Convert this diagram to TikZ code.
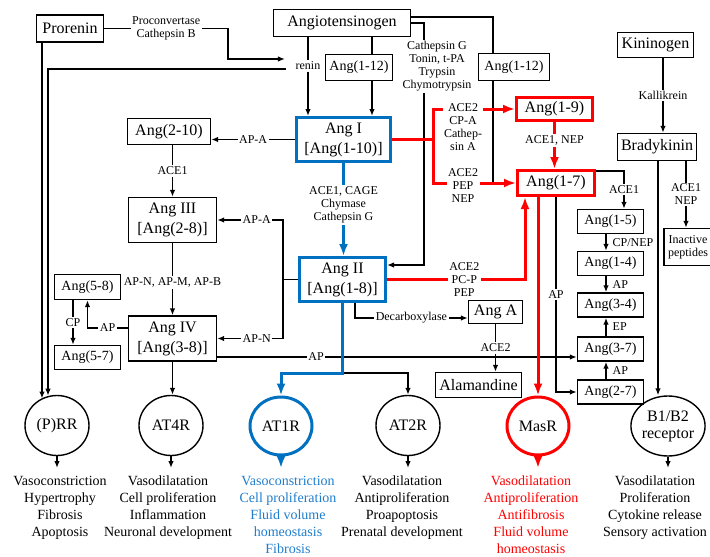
\documentclass[tikz,border=0pt]{standalone}
\usepackage{fontspec}
\setmainfont{Liberation Serif}
\usetikzlibrary{arrows.meta,shapes.geometric}
\definecolor{rasblue}{RGB}{0,112,192}
\definecolor{effblue}{RGB}{30,125,205}
\definecolor{rasred}{RGB}{255,0,0}

\begin{document}
\begin{tikzpicture}[x=1pt,y=-1pt,
    box/.style={draw, line width=1.4pt, fill=white, inner sep=0pt, align=center,
      font=\fontsize{16}{20}\selectfont, minimum height=27pt},
    sbox/.style={box, font=\fontsize{14}{16}\selectfont, minimum height=24pt, minimum width=66pt},
    bigbox/.style={box, minimum height=45pt, minimum width=88pt},
    bluebox/.style={bigbox, draw=rasblue, line width=3pt},
    redbox/.style={box, draw=rasred, line width=3pt},
    rec/.style={ellipse, draw, line width=1.4pt, inner sep=0pt, minimum width=64pt,
      minimum height=60pt, align=center, font=\fontsize{16}{17}\selectfont},
    eff/.style={anchor=north, inner xsep=0pt, inner ysep=8pt, align=center,
      font=\fontsize{14}{17}\selectfont},
    lab/.style={fill=white, inner sep=1.5pt, align=center, font=\fontsize{12}{13}\selectfont},
    side/.style={anchor=west, xshift=5pt, inner sep=1pt, font=\fontsize{12}{13}\selectfont},
    wire/.style={line width=1.4pt},
    conn/.style={line width=1.4pt, -{Latex[length=7pt,width=5.5pt]}},
    redwire/.style={draw=rasred, line width=3pt},
    redconn/.style={draw=rasred, line width=3pt, -{Latex[length=12pt,width=9pt]}},
    blueconn/.style={draw=rasblue, line width=3pt, -{Latex[length=12pt,width=9pt]}}]
    \useasboundingbox (0,0) rectangle (710,557);

    % Precursors
    \node[box, minimum width=67pt] (pro) at (70,28.5) {Prorenin};
    \node[box, minimum width=137pt] (agt) at (342,23) {Angiotensinogen};
    \node[sbox, minimum width=67pt, minimum height=26pt] (a112L) at (359,67.5) {Ang(1-12)};
    \node[sbox, minimum width=71pt, minimum height=27pt] (a112R) at (514,67) {Ang(1-12)};
    \node[box, minimum width=76pt, minimum height=25pt] (kin) at (655.5,45) {Kininogen};
    \node[font=\fontsize{12}{13}\selectfont, inner sep=1.5pt] (renin) at (308,66) {renin};

    % Angiotensin peptides
    \node[bluebox, minimum width=94pt, minimum height=44pt] (angI) at (343.5,139.5) {Ang I\\{[Ang(1-10)]}};
    \node[box, minimum width=83pt, minimum height=26pt] (a210) at (169,131.5) {Ang(2-10)};
    \node[redbox, minimum width=76pt, minimum height=23pt] (a19) at (554.5,109) {Ang(1-9)};
    \node[redbox, minimum width=77pt, minimum height=25pt] (a17) at (556,183) {Ang(1-7)};
    \node[box, minimum width=79pt, minimum height=27pt] (brady) at (657,147) {Bradykinin};
    \node[bigbox] (ang3) at (172.5,220) {Ang III\\{[Ang(2-8)]}};
    \node[sbox] (a15) at (610.5,221.5) {Ang(1-5)};
    \node[box, font=\fontsize{12}{13}\selectfont, minimum width=48pt, minimum height=37pt] (inact) at (688,247) {Inactive\\peptides};
    \node[sbox] (a14) at (610.5,263.5) {Ang(1-4)};
    \node[bluebox, minimum width=86pt, minimum height=44pt] (angII) at (342.5,279.5) {Ang II\\{[Ang(1-8)]}};
    \node[sbox, minimum height=25pt] (a58) at (87.5,287) {Ang(5-8)};
    \node[sbox] (a34) at (610.5,305) {Ang(3-4)};
    \node[box, minimum width=54pt, minimum height=23pt] (angA) at (495.5,312) {Ang A};
    \node[bigbox] (ang4) at (172.5,338.5) {Ang IV\\{[Ang(3-8)]}};
    \node[sbox] (a37) at (610.5,349) {Ang(3-7)};
    \node[sbox] (a57) at (87.5,357.5) {Ang(5-7)};
    \node[box, minimum width=86pt, minimum height=25pt] (alam) at (478.5,385) {Alamandine};
    \node[sbox] (a27) at (610.5,392) {Ang(2-7)};

    % Receptors
    \node[rec] (prr) at (57,425.5) {(P)RR};
    \node[rec] (at4r) at (171,425.5) {AT4R};
    \node[rec, draw=rasblue, line width=3pt, minimum width=62pt, minimum height=58pt] (at1r) at (281,426) {AT1R};
    \node[rec] (at2r) at (408,425.5) {AT2R};
    \node[rec, draw=rasred, line width=3pt, minimum width=62pt, minimum height=58pt] (masr) at (538,426) {MasR};
    \node[rec] (b12) at (668,426) {B1/B2\\receptor};

    % Effects
    \node[eff] (prrE) at (60,468) {Vasoconstriction\\Hypertrophy\\Fibrosis\\Apoptosis};
    \node[eff] (at4rE) at (168,468) {Vasodilatation\\Cell proliferation\\Inflammation\\Neuronal development};
    \node[eff, text=effblue] (at1rE) at (288,468) {Vasoconstriction\\Cell proliferation\\Fluid volume\\homeostasis\\Fibrosis};
    \node[eff] (at2rE) at (402,468) {Vasodilatation\\Antiproliferation\\Proapoptosis\\Prenatal development};
    \node[eff, text=rasred] (masrE) at (531,468) {Vasodilatation\\Antiproliferation\\Antifibrosis\\Fluid volume\\homeostasis};
    \node[eff] (b12E) at (655,468) {Vasodilatation\\Proliferation\\Cytokine release\\Sensory activation};

    % Renin and (P)RR
    \coordinate (pcturn) at (228,59);
    \coordinate (prrA) at ([xshift=-15pt]prr.north);
    \coordinate (prrB) at ([xshift=-9pt]prr.north);
    \draw[conn] (pro.east) -- node[lab]{Proconvertase\\Cathepsin B} (pro.east -| pcturn)
        -- (pcturn) -- ([xshift=-9pt,yshift=7pt]renin.west);
    \draw[conn] ([xshift=-8pt,yshift=-3pt]renin.west) -| (prrB |- prr.105);
    \draw[conn] (pro.south -| prrA) -- (prrA |- prr.120);
    \draw[wire] (renin.north |- agt.south) -- (renin.north);
    \draw[conn] (renin.south) -- (renin.south |- angI.north);

    % Ang(1-12)
    \coordinate (x112) at (372,0);
    \draw[wire] (x112 |- agt.south) -- (x112 |- a112L.north);
    \draw[conn] (x112 |- a112L.south) -- (x112 |- angI.north);
    \coordinate (x112R) at (493,0);
    \draw[wire] ([yshift=6pt]agt.east) -| (x112R |- a112R.north);
    \draw[wire] (x112R |- a112R.south) -- (x112R |- a17.west);

    % Cathepsin G route
    \coordinate (cgturn) at (424,265);
    \draw[conn] (agt.east) -| (cgturn) -- (cgturn -| angII.east);
    \node[lab] (cglab) at (437,66.5) {Cathepsin G\\Tonin, t-PA\\Trypsin\\Chymotrypsin};

    % Kinins
    \coordinate (xkal) at (663,0);
    \coordinate (xnep) at (686,0);
    \coordinate (xb12) at (658,0);
    \draw[conn] (xkal |- kin.south) -- node[lab]{Kallikrein} (xkal |- brady.north);
    \draw[conn] (xnep |- brady.south) -- node[lab]{ACE1\\NEP} (xnep |- inact.north);
    \draw[conn] (xb12 |- brady.south) -- (xb12 |- b12.95);

    % Left branch
    \coordinate (xap) at (283,0);
    \coordinate (xcp) at (73,0);
    \draw[conn] (angI.west) -- node[lab]{AP-A} (angI.west -| a210.east);
    \draw[conn] (a210.south -| ang3.north) -- node[lab]{ACE1} (ang3.north);
    \draw[wire] (angII.west) -- (xap |- angII.west);
    \draw[conn] (xap |- angII.west) |- node[lab,pos=0.7]{AP-A} (ang3.east);
    \draw[conn] (xap |- angII.west) |- node[lab,pos=0.7]{AP-N} (ang4.east);
    \draw[conn] (ang3) -- node[lab,pos=0.55]{AP-N, AP-M, AP-B} (ang4);
    \draw[conn] ([yshift=10.5pt]ang4.west) -| node[lab,pos=0.25]{AP} (a58.south);
    \draw[conn] (xcp |- a58.south) -- node[lab]{CP} (xcp |- a57.north);
    \draw[conn] (ang4.south) -- (ang4.south |- at4r.north);

    % Ang IV to Ang(3-7)
    \coordinate (yap) at (0,357);
    \draw[conn] (ang4.east |- yap) -- node[lab,pos=0.275]{AP} (a37.west |- yap);

    % Ang A and Alamandine
    \coordinate (xdec) at (355,318);
    \draw[conn] (xdec |- angII.south) |- node[lab,pos=0.75]{Decarboxylase} (angA.west |- xdec);
    \draw[conn] (angA.south) -- node[lab]{ACE2} (angA.south |- alam.north);

    % Right column
    \coordinate (xa15) at (624,0);
    \coordinate (xcol) at (606,0);
    \draw[conn] ([yshift=12pt]a17.east) -| node[lab,pos=0.75]{ACE1} (xa15 |- a15.north);
    \draw[conn] (xcol |- a15.south) -- node[side]{CP/NEP} (xcol |- a14.north);
    \draw[conn] (xcol |- a14.south) -- node[side]{AP} (xcol |- a34.north);
    \draw[conn] (xcol |- a37.north) -- node[side]{EP} (xcol |- a34.south);
    \draw[conn] (xcol |- a27.north) -- node[side]{AP} (xcol |- a37.south);
    \draw[conn] (a17.south) |- node[lab,pos=0.25]{AP} (a27.west);

    % Ang II to receptors
    \coordinate (ysplit) at (0,373);
    \draw[conn] (angII.south |- ysplit) -| (at2r.north);

    % ACE2 / Ang(1-7) axis
    \coordinate (xace) at (433,0);
    \coordinate (xr2) at (525,0);
    \draw[redwire] (angI.east) -- (xace |- angI.east);
    \draw[redconn] (xace |- angI.east) |- (a19.west);
    \draw[redconn] (xace |- angI.east) |- (a17.west);
    \node[lab] (ace2a) at (463,127) {ACE2\\CP-A\\Cathep-\\sin A};
    \node[lab] (ace2b) at (463,185.5) {ACE2\\PEP\\NEP};
    \draw[redconn] (a19.south) -- node[lab,pos=0.4]{ACE1, NEP} (a19.south |- a17.north);
    \draw[redconn] (angII.east) -| node[lab,pos=0.28]{ACE2\\PC-P\\PEP} (xr2 |- a17.south);
    \draw[redconn] (masr.north |- a17.south) -- (masr.north);

    % ACE / AT1R axis
    \draw[blueconn] (angI.south) -- node[lab,pos=0.45]{ACE1, CAGE\\Chymase\\Cathepsin G} (angI.south |- angII.north);
    \draw[blueconn] (angII.south) -- (angII.south |- ysplit) -| (at1r.north);

    % Receptor effects
    \draw[conn] (prr.south) -- (prr.south |- prrE.north);
    \draw[conn] (at4r.south) -- (at4r.south |- at4rE.north);
    \draw[blueconn] (at1r.south) -- (at1r.south |- at1rE.north);
    \draw[conn] (at2r.south) -- (at2r.south |- at2rE.north);
    \draw[redconn] (masr.south) -- (masr.south |- masrE.north);
    \draw[conn] (b12.south) -- (b12.south |- b12E.north);
\end{tikzpicture}
\end{document}
